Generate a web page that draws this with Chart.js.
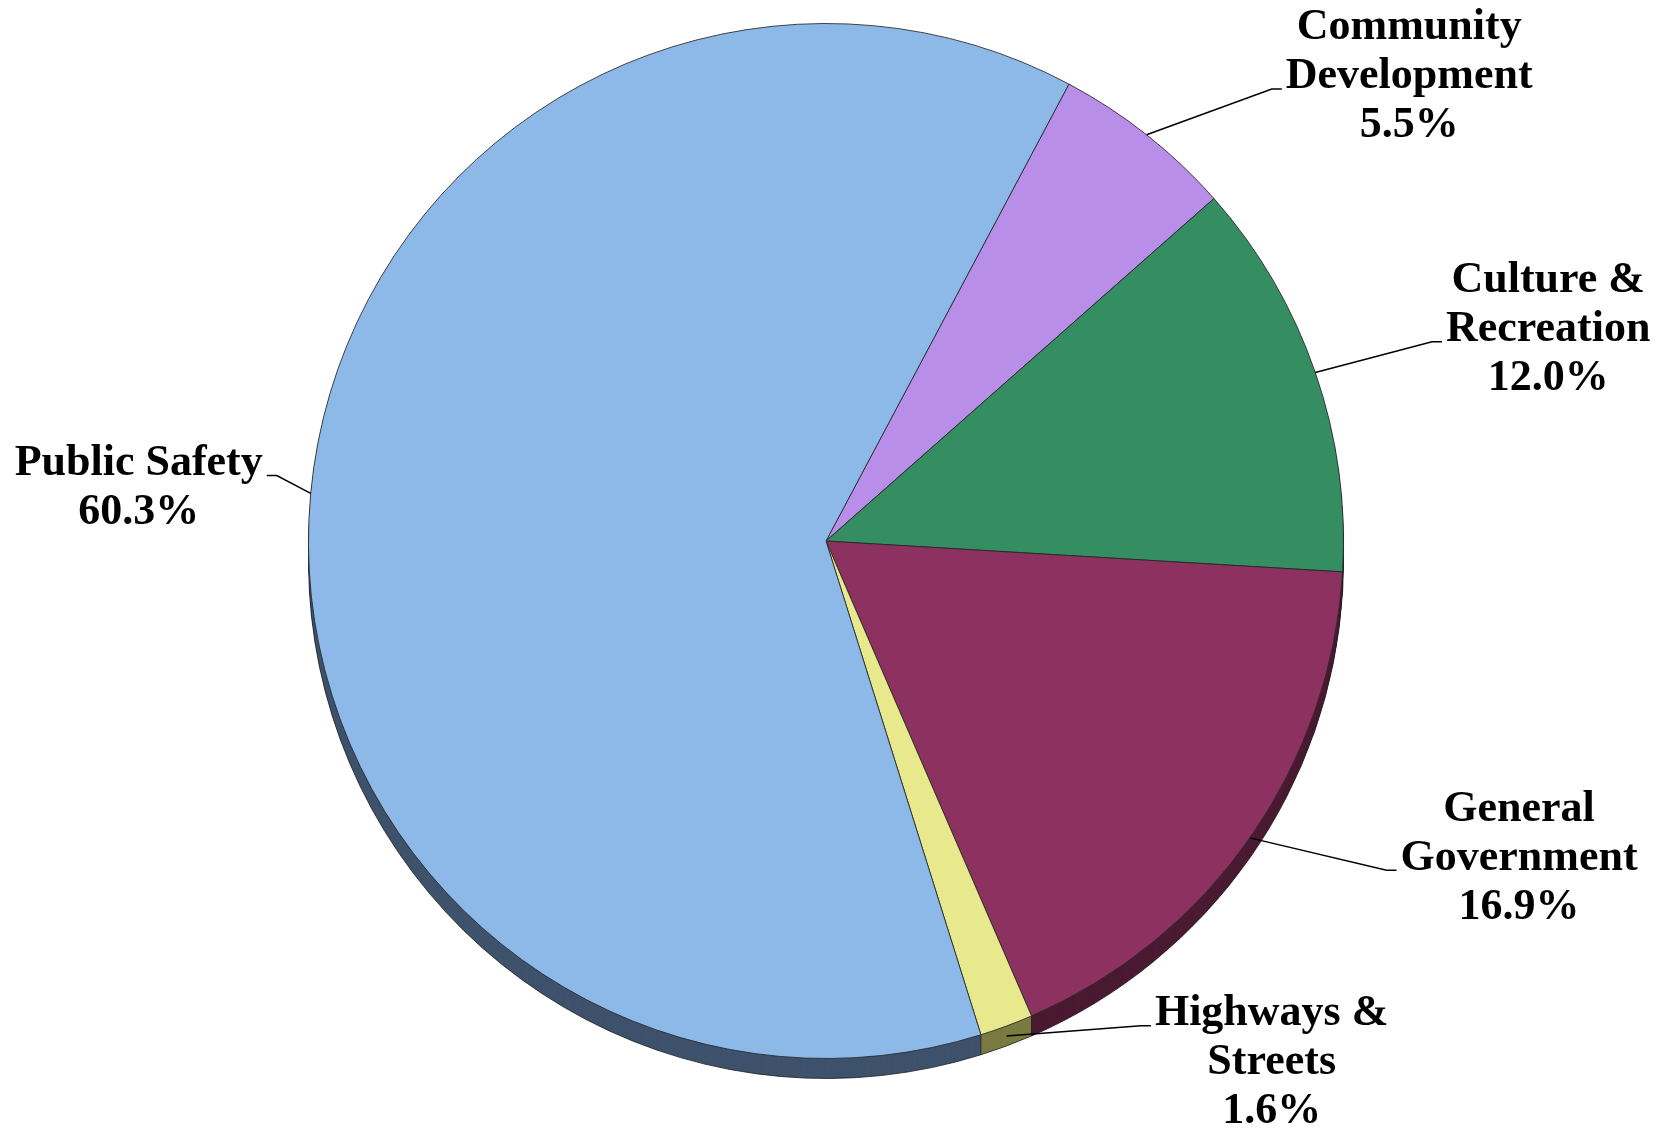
<!DOCTYPE html>
<html>
<head>
<meta charset="utf-8">
<script src="https://cdn.jsdelivr.net/npm/chart.js@4"></script>
<style>
  body { margin: 0; background: #ffffff; }
</style>
</head>
<body>
<canvas id="graficoPizza" width="1663" height="1128"></canvas>
<script>

// dados do grafico
var categorias = ['Community Development', 'Culture & Recreation', 'General Government', 'Highways & Streets', 'Public Safety'];
var linhasRotulo = [['Community', 'Development'], ['Culture &', 'Recreation'], ['General', 'Government'], ['Highways &', 'Streets'], ['Public Safety']];
var percentuais = [5.5, 12.0, 16.9, 1.6, 60.3];

var cores = ['rgb(185, 142, 232)', 'rgb(52, 142, 98)', 'rgb(140, 49, 96)', 'rgb(232, 232, 140)', 'rgb(141, 185, 232)'];
var coresLado = ['rgb(98, 70, 128)', 'rgb(24, 76, 50)', 'rgb(74, 26, 50)', 'rgb(122, 122, 66)', 'rgb(62, 82, 108)'];

// posicao dos rotulos: angulo (graus, a partir do topo) e distancia em raios
var posRotulo = [
    { ang: 51.5, dist: 1.44, linha: 1 },
    { ang: 73.7, dist: 1.454, linha: 1 },
    { ang: 114.6, dist: 1.473, linha: 1 },
    { ang: 139.5, dist: 1.326, linha: 0 },
    { ang: 274.4, dist: 1.332, linha: 0 }
];

var profundidade = 20;
var fonteRotulo = 'bold 44px "Liberation Serif"';
var alturaLinha = 49;

var plugin3D = {
    id: 'lado3d',
    beforeDatasetsDraw: function (chart) {
        var ctx = chart.ctx;
        var arcos = chart.getDatasetMeta(0).data;
        ctx.save();
        for (var d = profundidade; d >= 1; d--) {
            arcos.forEach(function (arco, i) {
                var p = arco.getProps(['x', 'y', 'startAngle', 'endAngle', 'outerRadius']);
                ctx.beginPath();
                ctx.moveTo(p.x, p.y + d);
                ctx.arc(p.x, p.y + d, p.outerRadius, p.startAngle, p.endAngle);
                ctx.closePath();
                ctx.fillStyle = coresLado[i];
                ctx.fill();
            });
        }
        // contorno do lado
        ctx.strokeStyle = 'rgba(30, 30, 30, 0.8)';
        ctx.lineWidth = 1;
        arcos.forEach(function (arco) {
            var p = arco.getProps(['x', 'y', 'startAngle', 'endAngle', 'outerRadius']);
            ctx.beginPath();
            ctx.arc(p.x, p.y + profundidade, p.outerRadius, p.startAngle, p.endAngle);
            ctx.stroke();
            var s = Math.sin(p.startAngle);
            if (s > 0) {
                var bx = p.x + p.outerRadius * Math.cos(p.startAngle);
                var by = p.y + p.outerRadius * s;
                ctx.beginPath();
                ctx.moveTo(bx, by);
                ctx.lineTo(bx, by + profundidade);
                ctx.stroke();
            }
        });
        ctx.restore();
    }
};

var pluginRotulos = {
    id: 'rotulos',
    afterDraw: function (chart) {
        var ctx = chart.ctx;
        var arcos = chart.getDatasetMeta(0).data;
        ctx.save();
        ctx.font = fonteRotulo;
        ctx.fillStyle = '#000000';
        ctx.textAlign = 'center';
        ctx.textBaseline = 'middle';
        ctx.strokeStyle = '#000000';
        ctx.lineWidth = 1.5;
        arcos.forEach(function (arco, i) {
            var p = arco.getProps(['x', 'y', 'startAngle', 'endAngle', 'outerRadius']);
            var r = p.outerRadius;
            var meio = (p.startAngle + p.endAngle) / 2;
            var axp = p.x + r * Math.cos(meio);
            var ayp = p.y + r * Math.sin(meio);
            if (Math.sin(meio) > 0.7) {
                ayp += profundidade / 2;
            }

            var pos = posRotulo[i];
            var t = pos.ang * Math.PI / 180;
            var cx = p.x + pos.dist * r * Math.sin(t);
            var cy = p.y - pos.dist * r * Math.cos(t);

            var linhas = linhasRotulo[i].concat([percentuais[i].toFixed(1) + '%']);
            var n = linhas.length;
            linhas.forEach(function (txt, k) {
                ctx.fillText(txt, cx, cy + (k - (n - 1) / 2) * alturaLinha);
            });

            // linha de chamada
            var lk = pos.linha;
            var w = ctx.measureText(linhas[lk]).width;
            var ly = cy + (lk - (n - 1) / 2) * alturaLinha + 12;
            var lado = cx > p.x ? -1 : 1;
            var lx = cx + lado * (w / 2 + 4);
            ctx.beginPath();
            ctx.moveTo(axp, ayp);
            ctx.lineTo(lx + lado * 10, ly);
            ctx.lineTo(lx, ly);
            ctx.stroke();
        });
        ctx.restore();
    }
};

const ctxPizza = document.getElementById('graficoPizza');

var graficoPizza = new Chart(ctxPizza, {
    type: 'pie',
    data: {
        labels: categorias,
        datasets: [{
            data: percentuais,
            backgroundColor: cores,
            borderColor: 'rgba(40, 40, 40, 0.85)',
            borderWidth: 1
        }]
    },
    options: {
        responsive: false,
        animation: false,
        rotation: 28,
        layout: {
            padding: { top: 23, bottom: 69, left: 300, right: 311 }
        },
        plugins: {
            legend: { display: false },
            tooltip: { enabled: false }
        }
    },
    plugins: [plugin3D, pluginRotulos]
});

</script>
</body>
</html>
